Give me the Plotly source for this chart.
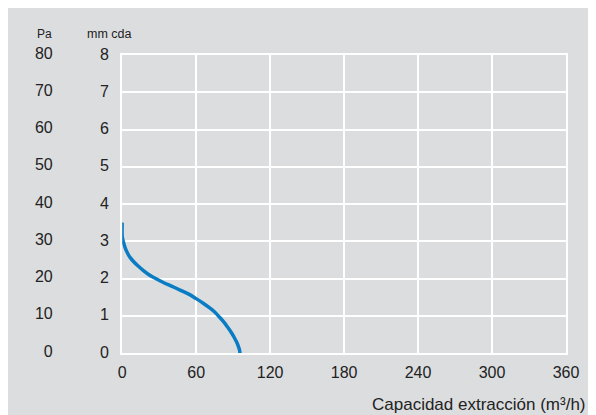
import plotly.graph_objects as go

# Curve data: flow m3/h vs pressure mm cda
flow = [0, 0, 0.8, 2.8, 6.5, 12.7, 20.8, 26, 33, 40, 47, 54, 60, 66, 71, 75, 79,
        82.5, 85.6, 88.5, 91, 93, 94.5, 95.3, 95.5]
pressure_mm = [3.5, 3.14, 3.0, 2.79, 2.56, 2.34, 2.12, 2.02, 1.9, 1.795, 1.69, 1.58,
               1.46, 1.33, 1.21, 1.10, 0.96, 0.83, 0.69, 0.55, 0.41, 0.28, 0.15, 0.06, 0]

x_ticks = [0, 60, 120, 180, 240, 300, 360]
mm_ticks = [0, 1, 2, 3, 4, 5, 6, 7, 8]
pa_ticks = [0, 10, 20, 30, 40, 50, 60, 70, 80]

W, H = 596, 415
ML, MR, MT, MB = 0, 38, 47, 70
PW = W - ML - MR
PH = H - MT - MB

BG = "#dcdddf"
BLUE = "#0a7cc4"
FONT = "Liberation Sans, Arial, Helvetica, sans-serif"
TXT = "#222222"


def py(pix):
    return (H - MB - pix) / PH


fig = go.Figure()
fig.add_trace(go.Scatter(x=flow, y=pressure_mm, mode="lines",
                         line=dict(color=BLUE, width=3.5, shape="spline", smoothing=1.0),
                         hoverinfo="skip", showlegend=False))
fig.add_trace(go.Scatter(x=[0], y=[0], mode="markers", marker=dict(opacity=0),
                         yaxis="y2", hoverinfo="skip", showlegend=False))

fig.update_layout(
    width=W, height=H,
    margin=dict(l=ML, r=MR, t=MT, b=MB),
    paper_bgcolor=BG, plot_bgcolor=BG,
    font=dict(family=FONT, size=16, color=TXT),
    xaxis=dict(domain=[111 / PW, 1], range=[0, 360], tickvals=x_ticks,
               showgrid=True, gridcolor="white", gridwidth=1.5,
               showline=True, linecolor="white", linewidth=2, mirror=True,
               zeroline=False, ticks="", ticklabelstandoff=4,
               tickfont=dict(size=16, color=TXT)),
    yaxis=dict(range=[0, 8], tickvals=mm_ticks, anchor="x",
               showgrid=True, gridcolor="white", gridwidth=1.5,
               showline=True, linecolor="white", linewidth=2, mirror=True,
               zeroline=False, ticks="", ticklabelstandoff=8, ticklabelshift=-1,
               tickfont=dict(size=16, color=TXT)),
    yaxis2=dict(overlaying="y", anchor="free", position=41 / PW, side="left",
                range=[0, 80], tickvals=pa_ticks, ticklabelshift=-2,
                showgrid=False, showline=False, zeroline=False, ticks="",
                tickfont=dict(size=16, color=TXT)),
    annotations=[
        dict(text="Pa", xref="paper", yref="paper", x=23 / PW, y=py(26),
             xanchor="left", yanchor="middle", showarrow=False, font=dict(size=12, color=TXT)),
        dict(text="mm cda", xref="paper", yref="paper", x=74 / PW, y=py(26),
             xanchor="left", yanchor="middle", showarrow=False, font=dict(size=12.5, color=TXT)),
        dict(text="Capacidad extracción (m³/h)", xref="paper", yref="paper",
             x=580 / PW, y=py(396), xanchor="right", yanchor="middle",
             showarrow=False, font=dict(size=17, color=TXT)),
    ],
)

fig.write_html("out.html")
